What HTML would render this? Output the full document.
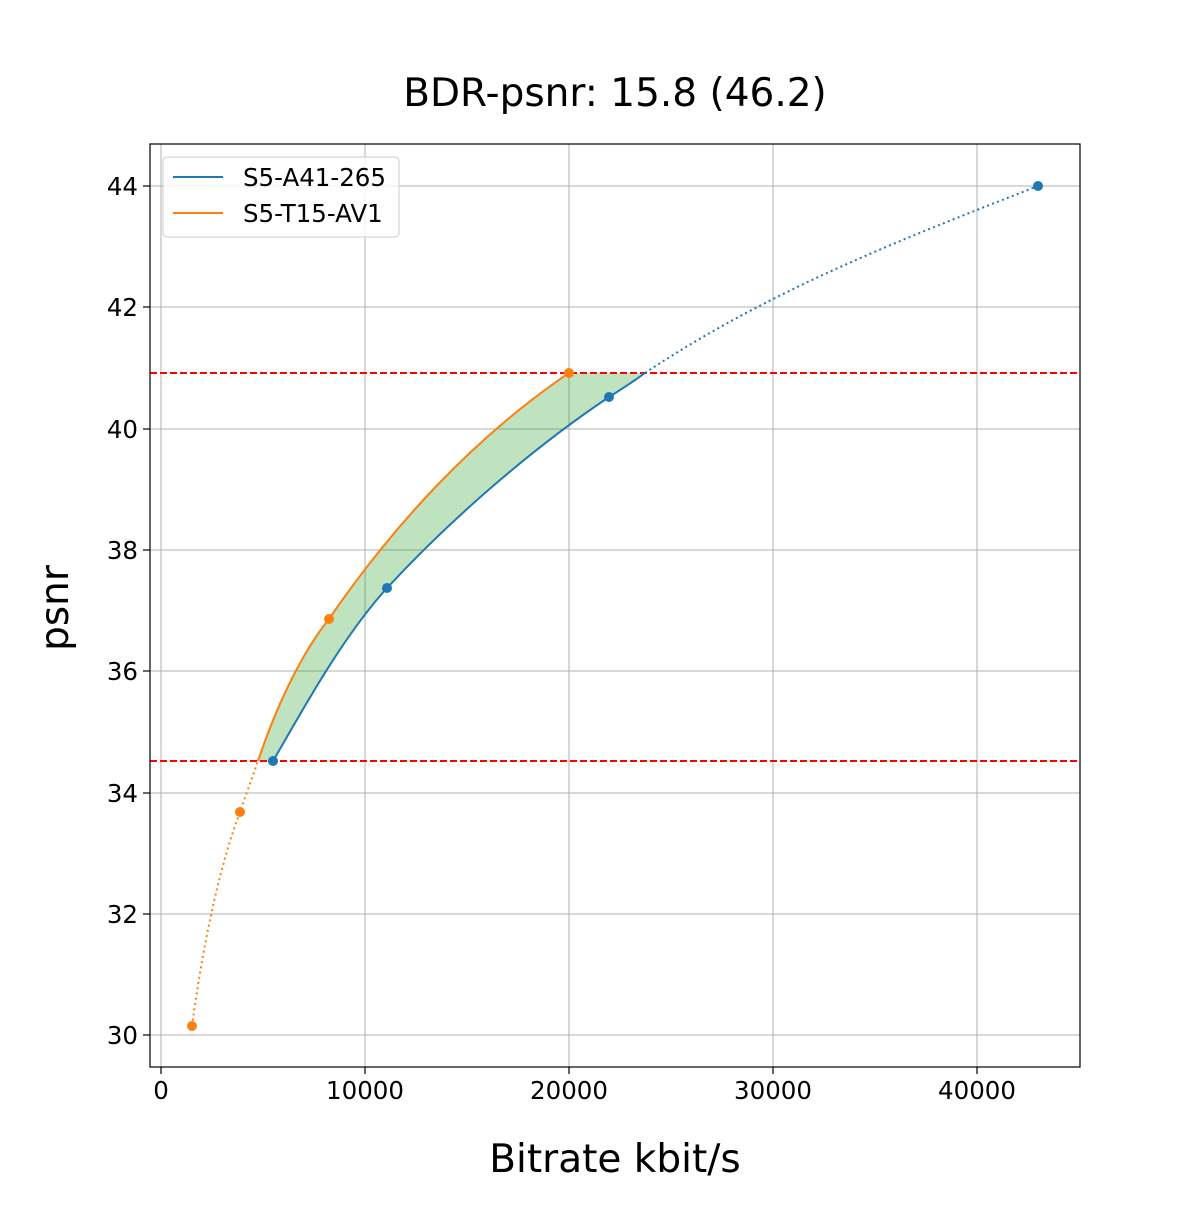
<!DOCTYPE html>
<html><head><meta charset="utf-8"><style>html,body{margin:0;padding:0;background:#fff}</style></head>
<body>
<svg width="1200" height="1200" xmlns="http://www.w3.org/2000/svg" font-family="DejaVu Sans, Liberation Sans, sans-serif">
<rect width="1200" height="1200" fill="#fff"/>
<g stroke="#b0b0b0" stroke-width="1">
<line x1="161" y1="144" x2="161" y2="1067"/><line x1="365" y1="144" x2="365" y2="1067"/><line x1="569" y1="144" x2="569" y2="1067"/><line x1="773" y1="144" x2="773" y2="1067"/><line x1="977" y1="144" x2="977" y2="1067"/>
<line x1="150" y1="186" x2="1080" y2="186"/><line x1="150" y1="307" x2="1080" y2="307"/><line x1="150" y1="429" x2="1080" y2="429"/><line x1="150" y1="550" x2="1080" y2="550"/><line x1="150" y1="671" x2="1080" y2="671"/><line x1="150" y1="793" x2="1080" y2="793"/><line x1="150" y1="914" x2="1080" y2="914"/><line x1="150" y1="1035" x2="1080" y2="1035"/>
</g>
<path d="M258,761 C275,710 300,655 329,619 C390,530 470,440 569,373 L645,373 C634,381 622,389 609,397 C530,450 450,520 387,588 C340,640 300,715 273,761 Z" fill="#2ca02c" fill-opacity="0.3"/>
<line x1="150" y1="373" x2="1080" y2="373" stroke="#ff0000" stroke-width="2" stroke-dasharray="7,3"/>
<line x1="150" y1="761" x2="1080" y2="761" stroke="#ff0000" stroke-width="2" stroke-dasharray="7,3"/>
<path d="M273,761 C300,715 340,640 387,588 C450,520 530,450 609,397 C622,389 634,381 645,373" fill="none" stroke="#1f77b4" stroke-width="2"/>
<path d="M645,373 C770,290 900,240 1038,186" fill="none" stroke="#1f77b4" stroke-width="2" stroke-dasharray="2,3.3"/>
<path d="M258,761 C275,710 300,655 329,619 C390,530 470,440 569,373" fill="none" stroke="#ff7f0e" stroke-width="2"/>
<path d="M192,1026 C205,930 222,860 240,812 C246,795 252,778 258,761" fill="none" stroke="#ff7f0e" stroke-width="2" stroke-dasharray="2,3.3"/>
<g fill="#1f77b4"><circle cx="273" cy="761" r="5"/><circle cx="387" cy="588" r="5"/><circle cx="609" cy="397" r="5"/><circle cx="1038" cy="186" r="5"/></g>
<g fill="#ff7f0e"><circle cx="192" cy="1026" r="5"/><circle cx="240" cy="812" r="5"/><circle cx="329" cy="619" r="5"/><circle cx="569" cy="373" r="5"/></g>
<rect x="150" y="144" width="930" height="923" fill="none" stroke="#000" stroke-width="1.2"/>
<g stroke="#000" stroke-width="1.2">
<line x1="161" y1="1067" x2="161" y2="1074"/><line x1="365" y1="1067" x2="365" y2="1074"/><line x1="569" y1="1067" x2="569" y2="1074"/><line x1="773" y1="1067" x2="773" y2="1074"/><line x1="977" y1="1067" x2="977" y2="1074"/>
<line x1="143" y1="186" x2="150" y2="186"/><line x1="143" y1="307" x2="150" y2="307"/><line x1="143" y1="429" x2="150" y2="429"/><line x1="143" y1="550" x2="150" y2="550"/><line x1="143" y1="671" x2="150" y2="671"/><line x1="143" y1="793" x2="150" y2="793"/><line x1="143" y1="914" x2="150" y2="914"/><line x1="143" y1="1035" x2="150" y2="1035"/>
</g>
<g font-size="24.5" text-anchor="middle" fill="#000">
<text x="161" y="1099">0</text><text x="365" y="1099">10000</text><text x="569" y="1099">20000</text><text x="773" y="1099">30000</text><text x="977" y="1099">40000</text>
</g>
<g font-size="24.5" text-anchor="end" fill="#000">
<text x="138" y="195">44</text><text x="138" y="316">42</text><text x="138" y="438">40</text><text x="138" y="559">38</text><text x="138" y="680">36</text><text x="138" y="802">34</text><text x="138" y="923">32</text><text x="138" y="1044">30</text>
</g>
<text x="615" y="106" font-size="39" text-anchor="middle">BDR-psnr: 15.8 (46.2)</text>
<text x="615" y="1172" font-size="39" text-anchor="middle">Bitrate kbit/s</text>
<text transform="translate(68,608) rotate(-90)" font-size="39" text-anchor="middle">psnr</text>
<rect x="163" y="157" width="236" height="80" rx="4" fill="#fff" fill-opacity="0.8" stroke="#ccc"/>
<line x1="173" y1="177" x2="223" y2="177" stroke="#1f77b4" stroke-width="2"/>
<line x1="173" y1="213" x2="223" y2="213" stroke="#ff7f0e" stroke-width="2"/>
<text x="243" y="186" font-size="24.5">S5-A41-265</text>
<text x="243" y="222" font-size="24.5">S5-T15-AV1</text>
</svg>
</body></html>
